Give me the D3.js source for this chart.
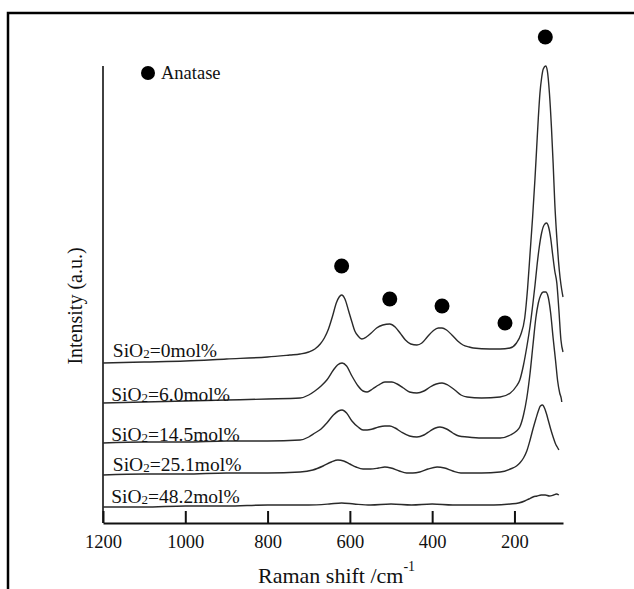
<!DOCTYPE html>
<html>
<head>
<meta charset="utf-8">
<script src="https://cdn.jsdelivr.net/npm/d3@7"></script>
<style>
  body { margin: 0; background: #fff; }
  svg text { font-family: "Liberation Serif", "Times New Roman", serif; fill: #111; }
</style>
</head>
<body>
<script>
// Raman spectra, [shift (cm-1), intensity (a.u.)]
const sio2_0 = [[1200,160],[1100,161],[1000,162],[900,164],[800,166],[746,168],[721,169],[700,171],[685,174],[672,179],[662,185],[652,194],[642,207],[633,220],[626,226],[620,228],[612,224],[603,212],[595,201],[588,192],[580,187],[571,184],[560,186],[548,190],[535,195],[520,198],[503,199],[490,196],[478,190],[465,183],[452,179],[437,178],[425,180],[412,186],[398,192],[385,195],[376,195],[365,193],[352,188],[338,182],[325,178],[310,176],[300,175],[260,174],[235,174],[211,175],[195,180],[185,188],[175,205],[168,235],[162,270],[156,305],[150,345],[146,375],[142,405],[138,430],[134,445],[130,454],[124,457],[120,452],[115,430],[110,395],[106,360],[102,320],[97,285],[93,262],[89,245],[85,233],[82,226]];
const sio2_6 = [[1200,120],[1100,121],[1000,122],[900,123],[800,124],[721,125],[700,128],[685,132],[670,137],[656,143],[640,153],[630,158],[619,160],[608,157],[595,147],[580,137],[568,132],[558,131],[545,134],[530,138],[515,141],[498,141],[485,139],[470,135],[455,131],[437,130],[420,132],[405,136],[390,139],[376,140],[362,138],[345,133],[330,128],[315,126],[280,125],[235,126],[210,130],[195,137],[187,143],[178,158],[170,176],[162,197],[155,220],[150,238],[145,258],[140,275],[134,290],[128,298],[122,300],[117,296],[112,285],[107,268],[102,252],[97,240],[92,213],[87,183],[82,171]];
const sio2_14 = [[1200,80],[1100,81],[1000,81],[900,82],[800,82],[721,83],[700,86],[685,90],[670,94],[656,100],[640,108],[628,112],[619,113],[608,110],[595,102],[580,96],[568,93],[558,93],[545,94],[530,96],[515,97],[503,97],[490,95],[475,91],[455,87],[437,86],[420,88],[405,92],[392,95],[381,96],[365,94],[350,90],[335,87],[315,86],[280,85],[235,85],[210,88],[195,92],[187,96],[178,108],[170,125],[162,150],[155,178],[148,205],[142,220],[136,228],[130,231],[124,231],[118,226],[112,210],[106,185],[100,162],[95,142],[90,130],[86,124],[85,121]];
const sio2_25 = [[1200,48],[1100,49],[1000,49],[900,50],[800,50],[721,51],[690,53],[665,57],[645,61],[629,63],[615,62],[600,59],[585,56],[568,54],[550,54],[530,55],[515,56],[500,55],[480,52],[462,50],[447,50],[430,51],[410,54],[388,56],[370,55],[350,52],[330,50],[315,50],[280,50],[235,51],[210,54],[195,57],[187,60],[178,65],[170,72],[162,83],[155,94],[148,104],[142,112],[137,117],[132,118],[126,114],[122,109],[118,103],[112,94],[106,86],[100,79],[96,76],[92,73]];
const sio2_48 = [[1200,16],[1100,16],[1000,17],[900,17],[800,18],[700,18],[650,19],[620,20],[590,19],[550,18],[500,19],[450,18],[400,19],[350,18],[300,18],[250,18],[210,19],[190,20],[175,22],[165,24],[155,26],[145,27],[135,28],[125,28],[115,27],[105,28],[98,29],[92,28]];

const spectra = [sio2_0, sio2_6, sio2_14, sio2_25, sio2_48];
const labelNums = ["0", "6.0", "14.5", "25.1", "48.2"];
// label anchor: [shift, intensity] of text baseline start
const labelPos = [[1176,166],[1180,122],[1180,82],[1176,52],[1180,20]];

// anatase peak markers
const anatase = [[620,257],[503,224],[376,217],[223,200],[125,486]];

const xTicks = [1200, 1000, 800, 600, 400, 200];

const width = 634, height = 589;
const margin = { left: 103, right: 71, top: 63, bottom: 66 };

const svg = d3.select("body").append("svg")
    .attr("width", width)
    .attr("height", height);

// outer frame
svg.append("rect")
    .attr("x", 8).attr("y", 13)
    .attr("width", 800).attr("height", 800)
    .attr("fill", "none")
    .attr("stroke", "#000")
    .attr("stroke-width", 2.5);

const x = d3.scaleLinear()
    .domain([1200, 82])
    .range([margin.left, width - margin.right]);

const y = d3.scaleLinear()
    .domain([0, 460])
    .range([height - margin.bottom, margin.top]);

// x axis, ticks point inward
svg.append("g")
    .attr("transform", `translate(0,${y(0)})`)
    .call(d3.axisBottom(x)
        .tickValues(xTicks)
        .tickFormat(d3.format("d"))
        .tickSizeInner(-12)
        .tickSizeOuter(0)
        .tickPadding(12))
    .call(g => g.select(".domain").attr("stroke", "#111").attr("stroke-width", 2))
    .call(g => g.selectAll(".tick line").attr("stroke", "#111").attr("stroke-width", 2))
    .call(g => g.selectAll(".tick text")
        .attr("font-size", 18.5)
        .attr("font-family", "Liberation Serif, serif")
        .attr("fill", "#111"));

// y axis: plain line
svg.append("line")
    .attr("x1", x(1200)).attr("x2", x(1200))
    .attr("y1", y(0)).attr("y2", y(457))
    .attr("stroke", "#111")
    .attr("stroke-width", 1.6);

// spectra
const line = d3.line()
    .x(d => x(d[0]))
    .y(d => y(d[1]))
    .curve(d3.curveMonotoneX);

svg.append("g")
  .selectAll("path")
  .data(spectra)
  .join("path")
    .attr("d", line)
    .attr("fill", "none")
    .attr("stroke", "#2a2a2a")
    .attr("stroke-width", 1.4);

// labels SiO2=...
const labels = svg.append("g")
  .selectAll("text")
  .data(labelNums)
  .join("text")
    .attr("x", (d, i) => x(labelPos[i][0]))
    .attr("y", (d, i) => y(labelPos[i][1]))
    .attr("font-size", 19.5);
labels.append("tspan").text("SiO");
labels.append("tspan").attr("font-size", 13).attr("dy", 1).text("2");
labels.append("tspan").attr("dy", -1).text(d => `=${d}mol%`);

// anatase markers
svg.append("g")
  .selectAll("circle")
  .data(anatase)
  .join("circle")
    .attr("cx", d => x(d[0]))
    .attr("cy", d => y(d[1]))
    .attr("r", 7.5)
    .attr("fill", "#000");

// legend
svg.append("circle")
    .attr("cx", 148).attr("cy", 73)
    .attr("r", 7)
    .attr("fill", "#000");
svg.append("text")
    .attr("x", 161).attr("y", 79)
    .attr("font-size", 18.5)
    .text("Anatase");

// axis titles
const xTitle = svg.append("text")
    .attr("x", 258).attr("y", 583)
    .attr("font-size", 22);
xTitle.append("tspan").text("Raman shift /cm");
xTitle.append("tspan").attr("font-size", 14).attr("dy", -12).text("-1");

svg.append("text")
    .attr("transform", "translate(82,306) rotate(-90)")
    .attr("text-anchor", "middle")
    .attr("font-size", 20)
    .text("Intensity (a.u.)");
</script>
</body>
</html>
